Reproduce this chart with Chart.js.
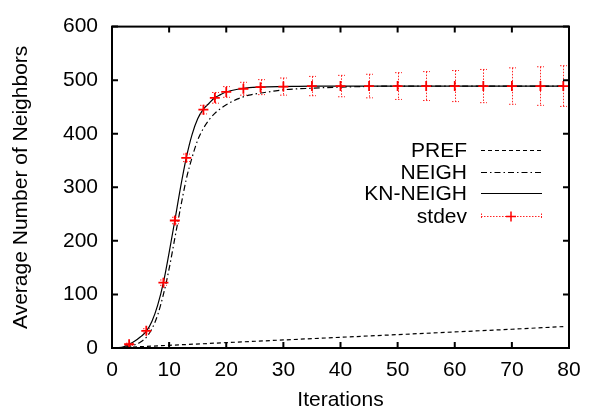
<!DOCTYPE html>
<html>
<head>
<meta charset="utf-8">
<script src="https://cdn.jsdelivr.net/npm/chart.js@4/dist/chart.umd.min.js"></script>
<style>
  html, body { margin: 0; padding: 0; background: #ffffff; }
  #wrap { width: 592px; height: 413px; }
</style>
</head>
<body>
<div id="wrap"><canvas id="chart" width="592" height="413"></canvas></div>
<script>
// axis ticks
const xTicks = [0, 10, 20, 30, 40, 50, 60, 70, 80];
const yTicks = [0, 100, 200, 300, 400, 500, 600];

// PREF (dashed)
const prefX = [0, 10, 20, 30, 40, 50, 60, 70, 79];
const prefY = [0, 5, 10, 15, 20, 25, 30, 35, 40];

// NEIGH (dash-dot)
const neighX = [0, 2, 3, 4, 5, 6, 7, 8, 9, 10, 11, 12, 13, 14, 15, 16, 17, 18, 19, 20, 22, 24, 26, 28, 30, 35, 40, 50, 60, 79];
const neighY = [0, 1, 3, 6, 11, 20, 36, 62, 100, 148, 205, 262, 315, 355, 388, 410, 426, 438, 447, 454, 465, 472, 476, 479, 482, 485, 487, 489, 489, 489];

// KN-NEIGH (solid)
const knX = [0, 1, 2, 3, 4, 5, 6, 7, 8, 9, 10, 11, 12, 13, 14, 15, 16, 17, 18, 19, 20, 22, 24, 26, 30, 35, 40, 60, 79];
const knY = [0, 0.5, 2, 7, 13, 21, 31, 50, 80, 122, 178, 238, 300, 355, 398, 428, 446, 457, 467, 473, 478, 483, 486, 487, 488, 489, 489, 489, 489];

// stdev points with error half-widths
const stdevX = [3, 6, 9, 11, 13, 16, 18, 20, 23, 26, 30, 35, 40, 45, 50, 55, 60, 65, 70, 75, 79];
const stdevY = [7, 32, 122, 238, 355, 445, 467, 478, 484, 487, 488, 489, 489, 489, 489, 489, 489, 489, 489, 489, 489];
const stdevErr = [2, 4, 5, 6, 7, 8, 10, 10, 12, 14, 16, 18, 20, 22, 25, 27, 29, 31, 34, 36, 38];

const FONT = "Liberation Sans, Arial, Helvetica, sans-serif";
const RED = "#ff0000";

function points(xs, ys) {
  return xs.map((x, i) => ({ x: x, y: ys[i] }));
}

const gnuplotLook = {
  id: "gnuplotLook",
  afterDatasetsDraw(chart) {
    const ctx = chart.ctx;
    const xs = chart.scales.x;
    const ys = chart.scales.y;
    ctx.save();
    ctx.strokeStyle = "rgba(255,0,0,0.85)";
    ctx.lineWidth = 1;
    ctx.setLineDash([1.5, 1.5]);
    stdevX.forEach((x, i) => {
      const px = Math.round(xs.getPixelForValue(x)) + 0.5;
      const top = ys.getPixelForValue(stdevY[i] + stdevErr[i]);
      const bot = ys.getPixelForValue(stdevY[i] - stdevErr[i]);
      ctx.beginPath();
      ctx.moveTo(px, top);
      ctx.lineTo(px, bot);
      ctx.moveTo(px - 3.5, top);
      ctx.lineTo(px + 3.5, top);
      ctx.moveTo(px - 3.5, bot);
      ctx.lineTo(px + 3.5, bot);
      ctx.stroke();
    });
    ctx.restore();
  },
  afterDraw(chart) {
    const ctx = chart.ctx;
    const a = chart.chartArea;
    const xs = chart.scales.x;
    const ys = chart.scales.y;
    ctx.save();
    ctx.strokeStyle = "#000";
    ctx.lineWidth = 2;
    ctx.setLineDash([]);
    ctx.strokeRect(a.left, a.top, a.right - a.left, a.bottom - a.top);
    const tl = 6;
    ctx.beginPath();
    xTicks.forEach((v) => {
      const p = xs.getPixelForValue(v);
      ctx.moveTo(p, a.bottom);
      ctx.lineTo(p, a.bottom - tl);
      ctx.moveTo(p, a.top);
      ctx.lineTo(p, a.top + tl);
    });
    yTicks.forEach((v) => {
      const p = ys.getPixelForValue(v);
      ctx.moveTo(a.left, p);
      ctx.lineTo(a.left + tl, p);
      ctx.moveTo(a.right, p);
      ctx.lineTo(a.right - tl, p);
    });
    ctx.stroke();

    // key
    const textRight = 467;
    const s0 = 481;
    const s1 = 542;
    const rows = [
      { label: "PREF", y: 150, dash: [4, 3], color: "#000" },
      { label: "NEIGH", y: 172, dash: [6, 3, 1.5, 3], color: "#000" },
      { label: "KN-NEIGH", y: 193, dash: [], color: "#000" },
      { label: "stdev", y: 216, dash: [1.5, 1.5], color: "rgba(255,0,0,0.85)" },
    ];
    ctx.font = "21px " + FONT;
    ctx.textAlign = "right";
    ctx.textBaseline = "middle";
    rows.forEach((r) => {
      ctx.fillStyle = "#000";
      ctx.fillText(r.label, textRight, r.y + 1);
      ctx.strokeStyle = r.color;
      ctx.lineWidth = 1.2;
      ctx.setLineDash(r.dash);
      ctx.beginPath();
      ctx.moveTo(s0, r.y + 0.5);
      ctx.lineTo(s1, r.y + 0.5);
      ctx.stroke();
    });
    const sy = 216.5;
    ctx.strokeStyle = "rgba(255,0,0,0.85)";
    ctx.lineWidth = 1;
    ctx.setLineDash([1.5, 1.5]);
    ctx.beginPath();
    ctx.moveTo(s0 + 0.5, sy - 3);
    ctx.lineTo(s0 + 0.5, sy + 3);
    ctx.moveTo(s1 - 0.5, sy - 3);
    ctx.lineTo(s1 - 0.5, sy + 3);
    ctx.stroke();
    ctx.setLineDash([]);
    ctx.strokeStyle = RED;
    ctx.lineWidth = 1.5;
    ctx.beginPath();
    ctx.moveTo(511 - 5, sy);
    ctx.lineTo(511 + 5, sy);
    ctx.moveTo(511, sy - 5);
    ctx.lineTo(511, sy + 5);
    ctx.stroke();
    ctx.restore();
  },
};

new Chart(document.getElementById("chart"), {
  type: "line",
  data: {
    datasets: [
      {
        label: "PREF",
        data: points(prefX, prefY),
        borderColor: "#000",
        borderWidth: 1.2,
        borderDash: [4, 3],
        pointRadius: 0,
        tension: 0,
        order: 3,
      },
      {
        label: "NEIGH",
        data: points(neighX, neighY),
        borderColor: "#000",
        borderWidth: 1.2,
        borderDash: [6, 3, 1.5, 3],
        pointRadius: 0,
        cubicInterpolationMode: "monotone",
        order: 2,
      },
      {
        label: "KN-NEIGH",
        data: points(knX, knY),
        borderColor: "#000",
        borderWidth: 1.2,
        pointRadius: 0,
        cubicInterpolationMode: "monotone",
        order: 1,
      },
      {
        label: "stdev",
        data: points(stdevX, stdevY),
        showLine: false,
        pointStyle: "cross",
        pointRadius: 5,
        pointBorderWidth: 1.8,
        pointBorderColor: RED,
        pointBackgroundColor: RED,
        borderColor: RED,
        order: 0,
      },
    ],
  },
  options: {
    responsive: false,
    animation: false,
    devicePixelRatio: 1,
    layout: { padding: { left: 0, top: 17, right: 23, bottom: 0 } },
    plugins: {
      legend: { display: false },
      tooltip: { enabled: false },
    },
    scales: {
      x: {
        type: "linear",
        min: 0,
        max: 80,
        afterBuildTicks: (s) => { s.ticks = xTicks.map((v) => ({ value: v })); },
        ticks: { color: "#000", font: { family: FONT, size: 21 }, padding: 10, maxRotation: 0 },
        grid: { display: false, drawTicks: false },
        border: { display: false },
        title: { display: true, text: "Iterations", color: "#000", font: { family: FONT, size: 21 }, padding: { top: 0, bottom: 0 } },
        afterFit: (s) => { s.height = 65; },
      },
      y: {
        type: "linear",
        min: 0,
        max: 600,
        afterBuildTicks: (s) => { s.ticks = yTicks.map((v) => ({ value: v })); },
        ticks: { color: "#000", font: { family: FONT, size: 21 }, padding: 14 },
        grid: { display: false, drawTicks: false },
        border: { display: false },
        title: { display: true, text: "Average Number of Neighbors", color: "#000", font: { family: FONT, size: 21 }, padding: { top: 9, bottom: 0 } },
        afterFit: (s) => { s.width = 112; },
      },
    },
  },
  plugins: [gnuplotLook],
});
</script>
</body>
</html>
